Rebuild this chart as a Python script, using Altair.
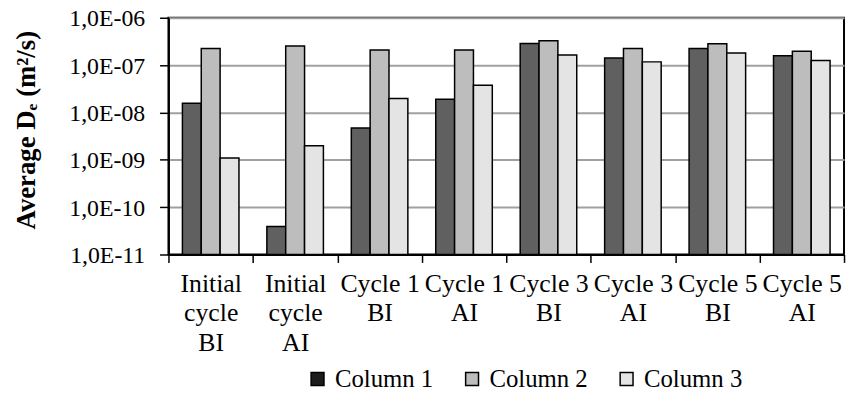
import altair as alt
import pandas as pd

categories = ["Initial\ncycle\nBI", "Initial\ncycle\nAI", "Cycle 1\nBI", "Cycle 1\nAI",
              "Cycle 3\nBI", "Cycle 3\nAI", "Cycle 5\nBI", "Cycle 5\nAI"]
series = ["Column 1", "Column 2", "Column 3"]
col1 = [1.56e-8, 3.9e-11, 4.7e-9, 1.9e-8, 2.85e-7, 1.42e-7, 2.25e-7, 1.58e-7]
col2 = [2.25e-7, 2.52e-7, 2.08e-7, 2.08e-7, 3.25e-7, 2.25e-7, 2.82e-7, 1.95e-7]
col3 = [1.09e-9, 1.97e-9, 1.98e-8, 3.75e-8, 1.64e-7, 1.17e-7, 1.81e-7, 1.25e-7]
y_ticks = [1e-11, 1e-10, 1e-9, 1e-8, 1e-7, 1e-6]
y_min, y_max = 1e-11, 1e-6

bar_colors = ["#606060", "#bdbdbd", "#e4e4e4"]
legend_colors = ["#1c1c1c", "#bdbdbd", "#e4e4e4"]

rows = []
for s, vals in zip(series, [col1, col2, col3]):
    for c, v in zip(categories, vals):
        rows.append({"cat": c, "series": s, "value": v})
df = pd.DataFrame(rows)
legend_df = pd.DataFrame({"series": series})

FONT = "Liberation Serif"

bars = alt.Chart(df).mark_bar(stroke="black", strokeWidth=1.5).encode(
    x=alt.X("cat:N", sort=categories,
            scale=alt.Scale(paddingInner=0, paddingOuter=0),
            axis=alt.Axis(title=None, labelAngle=0,
                          labelExpr="split(datum.label, '\\n')",
                          labelLineHeight=30, labelFontSize=26,
                          labelColor="black", labelPadding=8,
                          tickBand="extent", tickSize=8, tickColor="black", tickWidth=1.5,
                          domainColor="black", domainWidth=2, grid=False)),
    xOffset=alt.XOffset("series:N", sort=series,
                        scale=alt.Scale(paddingInner=0, paddingOuter=0.74)),
    y=alt.Y("value:Q",
            scale=alt.Scale(type="log", domain=[y_min, y_max]),
            axis=alt.Axis(values=y_ticks,
                          labelExpr="'1,0E-' + (abs(round(log(datum.value)/LN10)) < 10 ? '0' : '') + abs(round(log(datum.value)/LN10))",
                          labelFontSize=24, labelColor="black", labelPadding=15,
                          labelOffset=1,
                          tickSize=9, tickColor="black", tickWidth=1.5,
                          domainColor="black", domainWidth=2,
                          grid=True, gridColor="#a0a0a0", gridWidth=2,
                          title="Average Dₑ (m²/s)", titleFontSize=27,
                          titleFontWeight="bold", titleColor="black",
                          titleAngle=270, titleX=-143, titleY=113,
                          titleAlign="center", titleBaseline="middle")),
    y2=alt.datum(y_min),
    color=alt.Color("series:N", scale=alt.Scale(domain=series, range=bar_colors), legend=None),
)

legend_layer = alt.Chart(legend_df).mark_square(opacity=0).encode(
    color=alt.Color("series:N", sort=series,
                    scale=alt.Scale(domain=series, range=legend_colors),
                    legend=alt.Legend(title=None, orient="none", legendX=138, legendY=352,
                                      direction="horizontal", symbolType="square",
                                      symbolSize=169, symbolOpacity=1,
                                      symbolStrokeColor="black", symbolStrokeWidth=1.5,
                                      labelFontSize=25, labelColor="black",
                                      labelOffset=5, columnPadding=26, labelLimit=300)),
)

chart = alt.layer(bars, legend_layer).resolve_scale(color="independent").properties(
    width=682, height=239,
    autosize=alt.AutoSizeParams(type="none"),
    padding={"left": 162, "top": 8, "right": 2, "bottom": 139},
).configure(
    background="white", font=FONT
).configure_axis(
    labelFont=FONT, titleFont=FONT
).configure_legend(
    labelFont=FONT
).configure_view(stroke="black", strokeWidth=2)

chart.save("out.html", embed_options={"renderer": "svg", "actions": False})
